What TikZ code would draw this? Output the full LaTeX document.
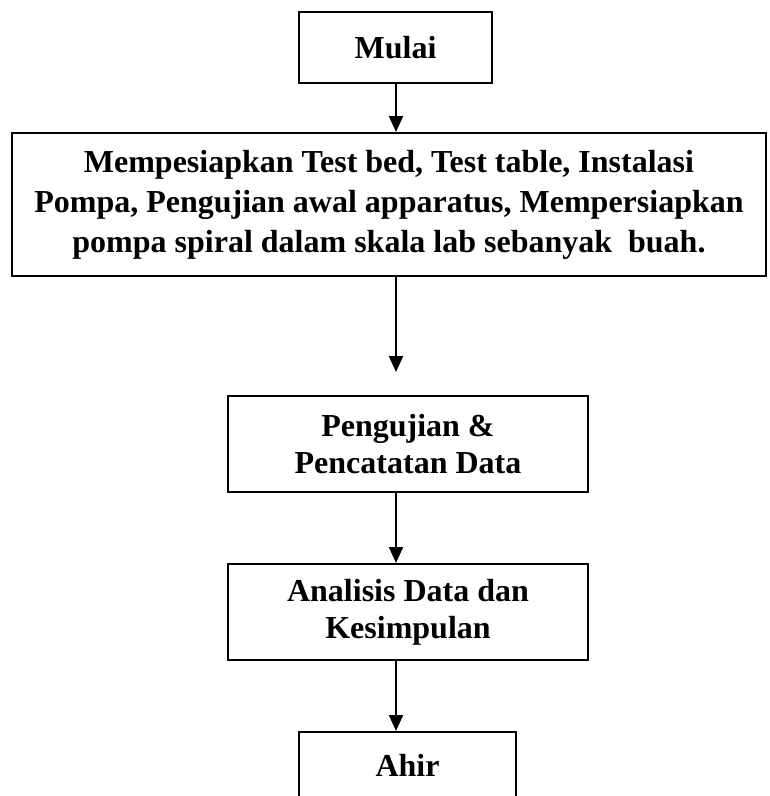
\documentclass[tikz,border=0pt]{standalone}
\usepackage{fontspec}
\setmainfont{Liberation Serif}
\usetikzlibrary{arrows.meta}
\begin{document}
\begin{tikzpicture}[x=0.75pt,y=-0.75pt,line width=1.5pt,
	kotak/.style={draw,align=center,inner sep=0pt,font=\fontsize{24}{30}\selectfont\bfseries},
	kecil/.style={font=\fontsize{24}{27.75}\selectfont\bfseries},
	panah/.style={-{Triangle[length=12pt,width=10.5pt]}}]
				\useasboundingbox (0,0) rectangle (770,796);
				\clip (0,0) rectangle (770,796);
				\coordinate (sumbu) at (396,0);
				\node[kotak,minimum width=144.75pt,minimum height=53.25pt] (mulai) at (395.5,47.5) {Mulai};
				\node[kotak,minimum width=565.5pt,minimum height=107.25pt] (siap) at (389,204.5) {Mempesiapkan Test bed, Test table, Instalasi\\Pompa, Pengujian awal apparatus, Mempersiapkan\\pompa spiral dalam skala lab sebanyak\ \ buah.};
				\node[kotak,kecil,minimum width=270pt,minimum height=72pt] (uji) at (408,444) {Pengujian \&\\Pencatatan Data};
				\node[kotak,kecil,minimum width=270pt,minimum height=72pt] (analisis) at (408,612) {Analisis Data dan\\Kesimpulan};
				\node[kotak,minimum width=162.75pt,minimum height=49.5pt] (ahir) at (407.5,765) {Ahir};
				\coordinate (ujung) at (396,372);
				\draw[panah] (mulai.south -| sumbu) -- (siap.north -| sumbu);
				\draw[panah] (siap.south -| sumbu) -- (ujung);
				\draw[panah] (uji.south -| sumbu) -- (analisis.north -| sumbu);
				\draw[panah] (analisis.south -| sumbu) -- (ahir.north -| sumbu);
			\end{tikzpicture}
\end{document}
